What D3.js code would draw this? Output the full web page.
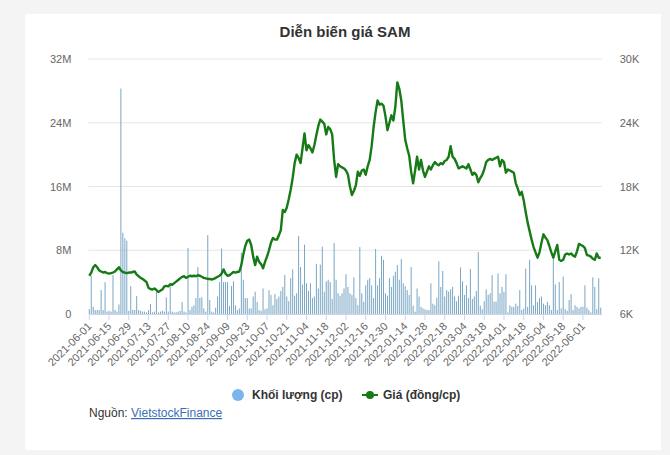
<!DOCTYPE html>
<html><head><meta charset="utf-8">
<script src="https://cdn.jsdelivr.net/npm/d3@7"></script>
<style>
html,body{margin:0;padding:0;background:#f4f4f4;}
svg{display:block;font-family:"Liberation Sans",Arial,sans-serif;}
</style></head>
<body><svg id="c" width="670" height="455"></svg>
<script>
const dates = [
"2021-06-01","2021-06-02","2021-06-03","2021-06-04","2021-06-07","2021-06-08","2021-06-09","2021-06-10","2021-06-11","2021-06-14","2021-06-15","2021-06-16","2021-06-17","2021-06-18","2021-06-21","2021-06-22","2021-06-23","2021-06-24","2021-06-25","2021-06-28","2021-06-29","2021-06-30",
"2021-07-01","2021-07-02","2021-07-05","2021-07-06","2021-07-07","2021-07-08","2021-07-09","2021-07-12","2021-07-13","2021-07-14","2021-07-15","2021-07-16","2021-07-19","2021-07-20","2021-07-21","2021-07-22","2021-07-23","2021-07-26","2021-07-27","2021-07-28","2021-07-29","2021-07-30",
"2021-08-02","2021-08-03","2021-08-04","2021-08-05","2021-08-06","2021-08-09","2021-08-10","2021-08-11","2021-08-12","2021-08-13","2021-08-16","2021-08-17","2021-08-18","2021-08-19","2021-08-20","2021-08-23","2021-08-24","2021-08-25","2021-08-26","2021-08-27","2021-08-30","2021-08-31",
"2021-09-01","2021-09-06","2021-09-07","2021-09-08","2021-09-09","2021-09-10","2021-09-13","2021-09-14","2021-09-15","2021-09-16","2021-09-17","2021-09-20","2021-09-21","2021-09-22","2021-09-23","2021-09-24","2021-09-27","2021-09-28","2021-09-29","2021-09-30",
"2021-10-01","2021-10-04","2021-10-05","2021-10-06","2021-10-07","2021-10-08","2021-10-11","2021-10-12","2021-10-13","2021-10-14","2021-10-15","2021-10-18","2021-10-19","2021-10-20","2021-10-21","2021-10-22","2021-10-25","2021-10-26","2021-10-27","2021-10-28","2021-10-29",
"2021-11-01","2021-11-02","2021-11-03","2021-11-04","2021-11-05","2021-11-08","2021-11-09","2021-11-10","2021-11-11","2021-11-12","2021-11-15","2021-11-16","2021-11-17","2021-11-18","2021-11-19","2021-11-22","2021-11-23","2021-11-24","2021-11-25","2021-11-26","2021-11-29","2021-11-30",
"2021-12-01","2021-12-02","2021-12-03","2021-12-06","2021-12-07","2021-12-08","2021-12-09","2021-12-10","2021-12-13","2021-12-14","2021-12-15","2021-12-16","2021-12-17","2021-12-20","2021-12-21","2021-12-22","2021-12-23","2021-12-24","2021-12-27","2021-12-28","2021-12-29","2021-12-30","2021-12-31",
"2022-01-04","2022-01-05","2022-01-06","2022-01-07","2022-01-10","2022-01-11","2022-01-12","2022-01-13","2022-01-14","2022-01-17","2022-01-18","2022-01-19","2022-01-20","2022-01-21","2022-01-24","2022-01-25","2022-01-26","2022-01-27","2022-01-28",
"2022-02-07","2022-02-08","2022-02-09","2022-02-10","2022-02-11","2022-02-14","2022-02-15","2022-02-16","2022-02-17","2022-02-18","2022-02-21","2022-02-22","2022-02-23","2022-02-24","2022-02-25","2022-02-28",
"2022-03-01","2022-03-02","2022-03-03","2022-03-04","2022-03-07","2022-03-08","2022-03-09","2022-03-10","2022-03-11","2022-03-14","2022-03-15","2022-03-16","2022-03-17","2022-03-18","2022-03-21","2022-03-22","2022-03-23","2022-03-24","2022-03-25","2022-03-28","2022-03-29","2022-03-30","2022-03-31",
"2022-04-01","2022-04-04","2022-04-05","2022-04-06","2022-04-07","2022-04-08","2022-04-12","2022-04-13","2022-04-14","2022-04-15","2022-04-18","2022-04-19","2022-04-20","2022-04-21","2022-04-22","2022-04-25","2022-04-26","2022-04-27","2022-04-28","2022-04-29",
"2022-05-04","2022-05-05","2022-05-06","2022-05-09","2022-05-10","2022-05-11","2022-05-12","2022-05-13","2022-05-16","2022-05-17","2022-05-18","2022-05-19","2022-05-20","2022-05-23","2022-05-24","2022-05-25","2022-05-26","2022-05-27","2022-05-30","2022-05-31",
"2022-06-01","2022-06-02","2022-06-03","2022-06-06","2022-06-07","2022-06-08","2022-06-09","2022-06-10","2022-06-13","2022-06-14"
];

// Khối lượng (triệu cp)
const volume = [
0.6,4.8,0.9,0.5,0.5,0.5,3.0,0.5,4.0,0.3, 0.4,0.3,4.9,0.5,0.3,1.2,28.3,10.2,9.5,9.2,
0.4,3.5,0.5,0.5,2.25,0.5,0.4,0.3,0.3,0.2, 0.5,1.25,0.2,0.3,2.9,0.2,0.3,0.4,0.3,2.1,
0.3,3.5,0.3,0.2,0.2,0.3,0.4,1.5,0.3,0.2, 8.3,0.5,0.9,1.1,2.0,5.9,2.0,2.1,0.7,0.3,
9.9,1.75,0.3,0.2,0.8,2.2,4.0,8.2,4.0,4.0, 4.0,1.0,3.5,4.1,1.1,0.5,0.7,7.7,4.3,2.0,
2.0,0.7,0.7,2.2,2.8,1.5,0.5,0.4,3.2,0.6, 0.7,3.0,2.4,1.1,2.5,1.9,2.2,2.9,3.4,4.9,
2.2,1.6,4.5,5.6,2.3,2.6,9.8,5.9,3.7,8.7, 3.85,2.9,3.85,2.0,2.2,6.3,3.2,6.2,8.45,2.8,
4.1,4.3,4.0,1.9,8.9,4.3,2.6,2.3,2.6,3.2, 5.0,3.4,2.6,2.4,4.6,2.0,1.1,8.4,2.6,1.55,
3.6,4.3,4.5,3.6,2.0,8.15,3.6,4.5,7.3,6.8, 2.6,2.3,4.5,3.4,4.8,5.3,6.15,4.3,6.9,3.85,
3.5,3.0,2.4,5.9,1.05,0.3,3.2,2.2,0.9,0.7, 0.6,0.5,0.5,3.85,1.3,1.1,2.05,6.6,3.4,5.4,
2.2,3.0,2.8,3.1,3.4,2.2,1.6,2.3,5.85,4.1, 2.4,3.6,2.0,5.65,1.9,2.2,2.9,7.8,1.05,0.6,
1.6,3.1,2.4,2.6,4.9,1.55,1.55,5.1,2.6,3.4, 2.8,5.0,0.2,1.1,0.9,0.9,1.3,1.0,3.0,0.5,
0.7,5.7,0.9,6.8,3.6,1.1,3.6,1.5,2.0,2.2, 1.3,1.1,1.55,1.1,0.5,7.6,3.7,0.5,4.0,0.7,
4.7,0.6,0.4,1.75,2.5,0.5,1.1,0.9,0.7,0.9, 0.9,3.6,0.8,0.5,0.2,4.6,3.4,0.6,4.5,0.8
];

// Giá (nghìn đồng/cp)
const price = [
9.6,9.9,10.4,10.6,10.4,10.1,10.0,9.9,9.95,9.85, 9.8,9.85,9.9,10.0,10.2,10.4,10.1,9.95,9.9,9.85,
9.9,9.9,9.95,10.0,9.7,9.55,9.4,9.3,9.15,9.0, 8.45,8.35,8.3,8.4,8.26,8.07,8.2,8.3,8.6,8.65,
8.6,8.8,8.75,8.9,9.05,9.2,9.35,9.5,9.55,9.4, 9.5,9.6,9.55,9.6,9.55,9.65,9.6,9.5,9.4,9.35,
9.3,9.3,9.25,9.3,9.4,9.5,9.6,9.8,10.2,9.8, 9.6,9.65,9.8,9.95,9.9,9.95,10.0,10.6,11.6,12.4,
12.9,13.0,12.5,11.4,10.6,11.4,10.9,10.7,10.3,10.9, 11.4,12.0,12.7,13.15,13.0,13.0,13.4,13.9,15.8,15.6,
16.0,16.8,17.7,18.8,20.2,21.0,20.7,20.2,21.6,23.0, 21.4,21.9,21.6,21.2,21.9,22.85,23.7,24.3,24.1,23.9,
22.9,23.6,23.4,22.9,20.5,18.9,20.1,19.9,19.8,19.7, 19.5,19.1,18.0,17.2,17.6,18.1,19.4,19.0,19.5,19.6,
19.1,19.9,20.5,21.8,23.6,25.0,26.1,25.7,25.8,25.6, 24.6,23.3,24.0,24.7,24.2,25.5,27.8,27.2,26.1,24.2,
22.4,21.6,20.9,19.4,18.3,19.5,20.8,19.6,20.5,19.5, 18.9,19.4,19.9,19.6,20.0,20.3,20.1,20.0,20.2,20.1,
20.4,20.5,20.8,21.8,20.8,20.6,20.2,19.7,19.8,19.9, 19.8,19.7,20.1,19.6,19.1,19.3,19.1,18.4,18.8,19.1,
19.6,20.3,20.5,20.6,20.5,20.6,20.7,20.8,19.9,20.5, 20.3,19.3,19.6,19.5,19.4,19.3,18.3,17.8,17.2,17.5,
16.7,15.6,14.6,13.8,13.0,12.3,11.8,11.3,11.8,12.7, 13.5,13.2,12.95,12.4,11.8,11.3,11.9,12.5,11.1,11.0,
11.1,11.6,11.7,11.6,11.7,11.5,11.4,11.9,12.6,12.5, 12.4,12.2,11.55,11.5,11.4,11.2,11.1,11.7,11.3,11.3
];

const tickLabels = ["2021-06-01","2021-06-15","2021-06-29","2021-07-13","2021-07-27","2021-08-10","2021-08-24","2021-09-09","2021-09-23","2021-10-07","2021-10-21","2021-11-04","2021-11-18","2021-12-02","2021-12-16","2021-12-30","2022-01-14","2022-01-28","2022-02-18","2022-03-04","2022-03-18","2022-04-01","2022-04-18","2022-05-04","2022-05-18","2022-06-01"];
const volTicks = [0, 8, 16, 24, 32];
const priceTicks = [6, 12, 18, 24, 30];

const svg = d3.select("#c");
// card
svg.append("rect").attr("x",25).attr("y",14).attr("width",636).attr("height",436).attr("fill","#fff");

const L = 88.3, R = 601.7, T = 59, B = 314;
const x = d3.scaleBand().domain(dates).range([L, R]).padding(0);
const yV = d3.scaleLinear().domain([0, 32]).range([B, T]);
const yP = d3.scaleLinear().domain([6, 30]).range([B, T]);

// title
svg.append("text").attr("x",345).attr("y",37).attr("text-anchor","middle")
  .attr("font-size",15).attr("font-weight","bold").attr("fill","#333").text("Diễn biến giá SAM");

// grid
svg.append("g").selectAll("line").data(volTicks.slice(1)).join("line")
  .attr("x1",L).attr("x2",R).attr("y1",d=>yV(d)).attr("y2",d=>yV(d))
  .attr("stroke","#e6e6e6").attr("stroke-width",1);

// left axis
const gl = svg.append("g").attr("transform",`translate(${L-14},0)`)
  .call(d3.axisLeft(yV).tickValues(volTicks).tickSize(0).tickFormat(d=> d===0?"0":d+"M"));
gl.select(".domain").remove();
gl.selectAll("text").attr("font-size",11).attr("fill","#666").attr("font-family","Liberation Sans, Arial, sans-serif");

// right axis
const gr = svg.append("g").attr("transform",`translate(${R+15},0)`)
  .call(d3.axisRight(yP).tickValues(priceTicks).tickSize(0).tickFormat(d=>d+"K"));
gr.select(".domain").remove();
gr.selectAll("text").attr("font-size",11).attr("fill","#666").attr("font-family","Liberation Sans, Arial, sans-serif");

// bars
const bw = 1;
svg.append("g").selectAll("rect").data(dates).join("rect")
  .attr("x",(d)=>x(d)+ (x.bandwidth()-bw)/2)
  .attr("y",(d,i)=>yV(volume[i]))
  .attr("width",bw)
  .attr("height",(d,i)=>B - yV(volume[i]))
  .attr("fill","#7aa6c4");

// x axis
const gx = svg.append("g").attr("transform",`translate(0,${B})`)
  .call(d3.axisBottom(x).tickValues(tickLabels).tickSize(6).tickSizeOuter(0));
gx.select(".domain").attr("stroke","#ccd6eb");
gx.selectAll(".tick line").attr("stroke","#ccd6eb");
gx.selectAll("text").attr("font-size",11).attr("fill","#666")
  .attr("font-family","Liberation Sans, Arial, sans-serif")
  .attr("text-anchor","end").attr("dy",null).attr("y",null)
  .attr("transform","translate(3,13) rotate(-45)");

// price line
const line = d3.line().x((d,i)=>x(dates[i])+x.bandwidth()/2).y(d=>yP(d));
svg.append("path").datum(price).attr("d",line).attr("fill","none")
  .attr("stroke","#167a16").attr("stroke-width",2.4).attr("stroke-linejoin","round");

// legend
const lg = svg.append("g").attr("font-size",12).attr("font-weight","bold").attr("fill","#333");
lg.append("circle").attr("cx",238).attr("cy",395).attr("r",6).attr("fill","#7cb5ec");
lg.append("text").attr("x",252).attr("y",399).text("Khối lượng (cp)");
lg.append("line").attr("x1",362).attr("x2",378).attr("y1",395).attr("y2",395).attr("stroke","#167a16").attr("stroke-width",2);
lg.append("circle").attr("cx",370).attr("cy",395).attr("r",4).attr("fill","#167a16");
lg.append("text").attr("x",383).attr("y",399).text("Giá (đồng/cp)");

// source
const src = svg.append("text").attr("x",89).attr("y",417).attr("font-size",12).attr("fill","#333");
src.append("tspan").text("Nguồn: ");
src.append("tspan").attr("fill","#3b6fb6").attr("text-decoration","underline").text("VietstockFinance");
</script></body></html>
